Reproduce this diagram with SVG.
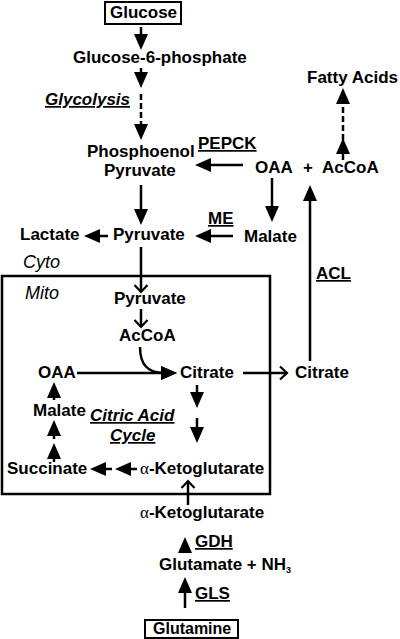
<svg xmlns="http://www.w3.org/2000/svg" width="400" height="639" viewBox="0 0 400 639">
<style>
text{font-family:"Liberation Sans",Arial,sans-serif;font-weight:bold;font-size:17px;fill:#000}
.it{font-style:italic}
.ul{text-decoration:underline}
.rg{font-weight:normal}
.gr{font-family:"Liberation Serif","Times New Roman",serif;font-weight:normal}
.box{fill:none;stroke:#000;stroke-width:2}
.c{fill:none;stroke:#000;stroke-width:2.5}
.f{marker-end:url(#fh)}
.v{marker-end:url(#vh)}
.d{stroke-dasharray:6,3}
</style>
<defs>
<marker id="fh" markerUnits="userSpaceOnUse" viewBox="0 -8 17 16" markerWidth="17" markerHeight="16" refX="3" refY="0" orient="auto">
<path d="M0,-7 L16,0 L0,7 Z" fill="#000"/>
</marker>
<marker id="vh" markerUnits="userSpaceOnUse" viewBox="-9 -8 11 16" markerWidth="11" markerHeight="16" refX="0" refY="0" orient="auto">
<path d="M-7,-6.5 L0,0 L-7,6.5" fill="none" stroke="#000" stroke-width="2.2"/>
</marker>
</defs>

<rect id="mito-box" x="2" y="276" width="268" height="218" fill="none" stroke="#000" stroke-width="2.5"/>

<g id="connectors">
<path class="c f" d="M141,27 V37"/>
<path class="c f" d="M141,68 V75"/>
<path class="c d f" d="M141,94 V127"/>
<path class="c f" d="M141,185 V212"/>
<path class="c f" d="M108,236 H97"/>
<path class="c f" d="M243,165 H208"/>
<path class="c f" d="M233,236 H208"/>
<path class="c f" d="M272,178 V209"/>
<path class="c f" d="M310,361 V198"/>
<path class="c f" d="M343,160 V151"/>
<path class="c d f" d="M343,140 V101"/>
<path class="c v" d="M141,247 V292"/>
<path class="c v" d="M141,309 V327"/>
<path class="c f" d="M140,347 C140,364 147,373 164,373"/>
<path class="c f" d="M77,373 H164"/>
<path class="c v" d="M243,373 H287"/>
<path class="c f" d="M197,385 V395"/>
<path class="c f" d="M197,418 V430"/>
<path class="c f" d="M137,469 H128"/>
<path class="c f" d="M112,469 H103"/>
<path class="c f" d="M54,462 V456"/>
<path class="c f" d="M54,439 V433"/>
<path class="c f" d="M54,400 V395"/>
<path class="c v" d="M188,505 V481"/>
<path class="c f" d="M185,553 V550"/>
<path class="c f" d="M185,608 V590"/>
</g>

<g id="glucose"><rect class="box" x="105" y="2" width="76" height="22"/><text x="110" y="18">Glucose</text></g>
<g id="g6p"><text x="73" y="63">Glucose-6-phosphate</text></g>
<g id="glycolysis"><text class="it ul" x="45" y="105">Glycolysis</text></g>
<g id="pep"><text x="87" y="157">Phosphoenol</text><text x="104" y="176">Pyruvate</text></g>
<g id="pepck"><text class="ul" x="198" y="149">PEPCK</text></g>
<g id="oaa-cyto"><text x="255" y="173">OAA</text></g>
<g id="plus"><text x="303" y="173">+</text></g>
<g id="accoa-cyto"><text x="322" y="173">AcCoA</text></g>
<g id="fatty-acids"><text x="307" y="83">Fatty Acids</text></g>
<g id="lactate"><text x="20" y="240">Lactate</text></g>
<g id="pyruvate-cyto"><text x="113" y="240">Pyruvate</text></g>
<g id="me"><text class="ul" x="208" y="224">ME</text></g>
<g id="malate-cyto"><text x="244" y="242">Malate</text></g>
<g id="cyto"><text class="it rg" x="23" y="268" style="font-size:18px">Cyto</text></g>
<g id="mito"><text class="it rg" x="25" y="299" style="font-size:18px">Mito</text></g>
<g id="pyruvate-mito"><text x="114" y="304">Pyruvate</text></g>
<g id="accoa-mito"><text x="119" y="341">AcCoA</text></g>
<g id="oaa-mito"><text x="38" y="378">OAA</text></g>
<g id="citrate-mito"><text x="180" y="378">Citrate</text></g>
<g id="citrate-cyto"><text x="295" y="378">Citrate</text></g>
<g id="acl"><text class="ul" x="316" y="279">ACL</text></g>
<g id="malate-mito"><text x="33" y="416">Malate</text></g>
<g id="cycle"><text class="it ul" x="90" y="421">Citric Acid</text><text class="it ul" x="110" y="441">Cycle</text></g>
<g id="succinate"><text x="7" y="474">Succinate</text></g>
<g id="akg-mito"><text x="140" y="474"><tspan class="gr">α</tspan>-Ketoglutarate</text></g>
<g id="akg-cyto"><text x="140" y="518"><tspan class="gr">α</tspan>-Ketoglutarate</text></g>
<g id="gdh"><text class="ul" x="195" y="547">GDH</text></g>
<g id="glutamate"><text x="159" y="570">Glutamate + NH<tspan style="font-size:9px" dy="3">3</tspan></text></g>
<g id="gls"><text class="ul" x="195" y="599">GLS</text></g>
<g id="glutamine"><rect class="box" x="145" y="620" width="93" height="18"/><text x="153" y="634" style="font-size:16px">Glutamine</text></g>
</svg>
